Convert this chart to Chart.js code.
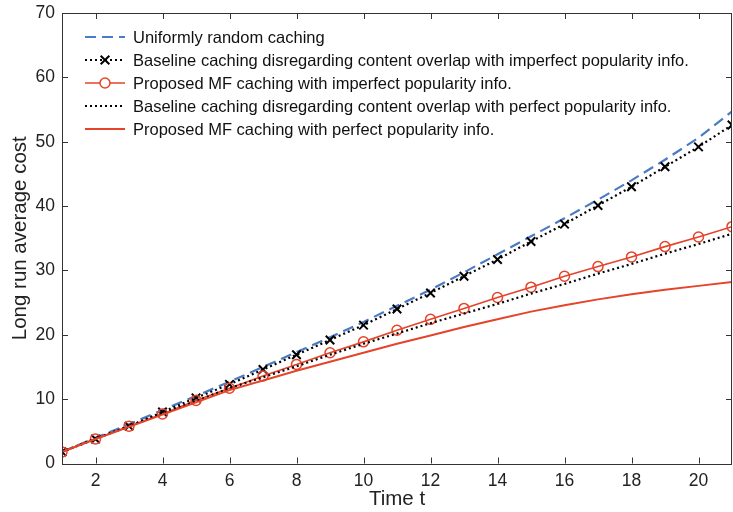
<!DOCTYPE html>
<html>
<head>
<meta charset="utf-8">
<script src="https://cdn.jsdelivr.net/npm/chart.js@4.4.1/dist/chart.umd.min.js"></script>
<style>
  html, body { margin: 0; padding: 0; background: #fff; }
  #wrap { width: 733px; height: 512px; }
</style>
</head>
<body>
<div id="wrap"><canvas id="c" width="733" height="512"></canvas></div>
<script>
// ---- data ----
const tValues = [1,2,3,4,5,6,7,8,9,10,11,12,13,14,15,16,17,18,19,20,21];
const uniformRandom = [1.8,4.0,6.1,8.3,10.5,12.7,15.0,17.3,19.6,22.0,24.5,27.0,29.7,32.5,35.3,38.1,41.0,44.0,47.2,50.6,54.7];
const baselineImperfect = [1.8,3.8,5.8,8.0,10.2,12.3,14.6,16.9,19.2,21.5,24.0,26.5,29.1,31.7,34.5,37.2,40.1,43.0,46.1,49.2,52.6];
const proposedImperfect = [1.8,3.8,5.8,7.7,9.8,11.7,13.6,15.4,17.2,18.9,20.7,22.4,24.1,25.8,27.4,29.1,30.6,32.1,33.7,35.2,36.8];
const baselinePerfect = [1.8,3.9,5.8,7.8,9.7,11.7,13.4,15.1,16.9,18.6,20.2,21.8,23.3,24.8,26.4,27.9,29.5,31.0,32.6,34.1,35.7];
const proposedPerfect = [1.8,3.8,5.7,7.6,9.5,11.4,12.9,14.4,15.8,17.2,18.6,19.9,21.2,22.4,23.6,24.6,25.5,26.3,27.0,27.6,28.2];
const xTickLabels = [2,4,6,8,10,12,14,16,18,20];
const yTickLabels = [0,10,20,30,40,50,60,70];
const seriesLabels = [
  'Uniformly random caching',
  'Baseline caching disregarding content overlap with imperfect popularity info.',
  'Proposed MF caching with imperfect popularity info.',
  'Baseline caching disregarding content overlap with perfect popularity info.',
  'Proposed MF caching with perfect popularity info.'
];

const RED = '#e5432a';
const BLUE = '#4b7bc4';
const BLACK = '#000000';
const FONT = '"Liberation Sans", Arial, Helvetica, sans-serif';

function pts(arr) { return arr.map((v, i) => ({ x: tValues[i], y: v })); }

const datasets = [
  { label: seriesLabels[0], data: pts(uniformRandom), borderColor: BLUE, borderWidth: 2.2,
    borderDash: [11, 6], pointRadius: 0, order: 5 },
  { label: seriesLabels[1], data: pts(baselineImperfect), borderColor: BLACK, borderWidth: 2.2,
    borderDash: [2, 3], pointStyle: 'crossRot', pointRadius: 6, pointBorderWidth: 2,
    pointBorderColor: BLACK, pointBackgroundColor: BLACK, order: 4 },
  { label: seriesLabels[2], data: pts(proposedImperfect), borderColor: RED, borderWidth: 1.6,
    pointStyle: 'circle', pointRadius: 5, pointBorderWidth: 1.5, pointBorderColor: RED,
    pointBackgroundColor: 'rgba(255,255,255,0)', order: 3 },
  { label: seriesLabels[3], data: pts(baselinePerfect), borderColor: BLACK, borderWidth: 2.2,
    borderDash: [2, 3], pointRadius: 0, order: 2 },
  { label: seriesLabels[4], data: pts(proposedPerfect), borderColor: RED, borderWidth: 2,
    pointRadius: 0, order: 1 }
];

const boxPlugin = {
  id: 'boxTicks',
  afterDraw(chart) {
    const { ctx, chartArea: a, scales } = chart;
    ctx.save();
    ctx.strokeStyle = '#333';
    ctx.lineWidth = 1;
    ctx.beginPath();
    ctx.rect(Math.round(a.left) + 0.5, Math.round(a.top) + 0.5,
             Math.round(a.right - a.left) - 1, Math.round(a.bottom - a.top));
    ctx.stroke();
    const L = 6;
    ctx.beginPath();
    xTickLabels.forEach(v => {
      const x = Math.round(scales.x.getPixelForValue(v)) + 0.5;
      ctx.moveTo(x, a.bottom); ctx.lineTo(x, a.bottom - L);
      ctx.moveTo(x, a.top); ctx.lineTo(x, a.top + L);
    });
    yTickLabels.forEach(v => {
      const y = Math.round(scales.y.getPixelForValue(v)) + 0.5;
      ctx.moveTo(a.left, y); ctx.lineTo(a.left + L, y);
      ctx.moveTo(a.right, y); ctx.lineTo(a.right - L, y);
    });
    ctx.stroke();
    ctx.restore();
  }
};

const legendPlugin = {
  id: 'insideLegend',
  afterDraw(chart) {
    const { ctx } = chart;
    const x0 = 85, x1 = 125, tx = 133, y0 = 37, dy = 23;
    ctx.save();
    ctx.font = '16.5px ' + FONT;
    ctx.textBaseline = 'middle';
    chart.data.datasets.forEach((ds, i) => {
      const y = y0 + i * dy;
      ctx.strokeStyle = ds.borderColor;
      ctx.lineWidth = ds.borderWidth;
      ctx.setLineDash(ds.borderDash || []);
      ctx.beginPath();
      ctx.moveTo(x0, y); ctx.lineTo(x1, y);
      ctx.stroke();
      ctx.setLineDash([]);
      if (ds.pointRadius > 0) {
        const cx = (x0 + x1) / 2;
        ctx.strokeStyle = ds.pointBorderColor;
        ctx.lineWidth = ds.pointBorderWidth;
        ctx.beginPath();
        if (ds.pointStyle === 'circle') {
          ctx.fillStyle = '#fff';
          ctx.arc(cx, y, ds.pointRadius, 0, Math.PI * 2);
          ctx.fill();
          ctx.stroke();
        } else {
          const r = ds.pointRadius * 0.72;
          ctx.moveTo(cx - r, y - r); ctx.lineTo(cx + r, y + r);
          ctx.moveTo(cx - r, y + r); ctx.lineTo(cx + r, y - r);
          ctx.stroke();
        }
      }
      ctx.fillStyle = '#111';
      ctx.fillText(ds.label, tx, y + 1);
    });
    ctx.restore();
  }
};

new Chart(document.getElementById('c'), {
  type: 'line',
  data: { datasets },
  plugins: [boxPlugin, legendPlugin],
  options: {
    responsive: false,
    animation: false,
    devicePixelRatio: 1,
    layout: { autoPadding: false, padding: { top: 13, right: 1, left: 0, bottom: 0 } },
    plugins: { legend: { display: false }, tooltip: { enabled: false } },
    elements: { line: { tension: 0 } },
    scales: {
      x: {
        type: 'linear', min: 1, max: 21,
        afterBuildTicks(s) { s.ticks = xTickLabels.map(v => ({ value: v })); },
        afterFit(s) { s.height = 48.5; s.paddingLeft = 0; s.paddingRight = 0; },
        grid: { display: false, drawTicks: false },
        border: { display: false },
        ticks: { padding: 7, color: '#222', font: { family: FONT, size: 17.5 }, maxRotation: 0, autoSkip: false },
        title: { display: true, text: 'Time t', color: '#222', font: { family: FONT, size: 20.5 }, padding: { top: 0, bottom: 0 } }
      },
      y: {
        type: 'linear', min: 0, max: 70,
        afterBuildTicks(s) { s.ticks = yTickLabels.map(v => ({ value: v })); },
        afterFit(s) { s.width = 62; s.paddingTop = 0; s.paddingBottom = 0; },
        grid: { display: false, drawTicks: false },
        border: { display: false },
        ticks: { padding: 7, color: '#222', font: { family: FONT, size: 17.5 }, autoSkip: false },
        title: { display: true, text: 'Long run average cost', color: '#222', font: { family: FONT, size: 20.5 }, padding: { top: 8, bottom: 0 } }
      }
    }
  }
});
</script>
</body>
</html>
